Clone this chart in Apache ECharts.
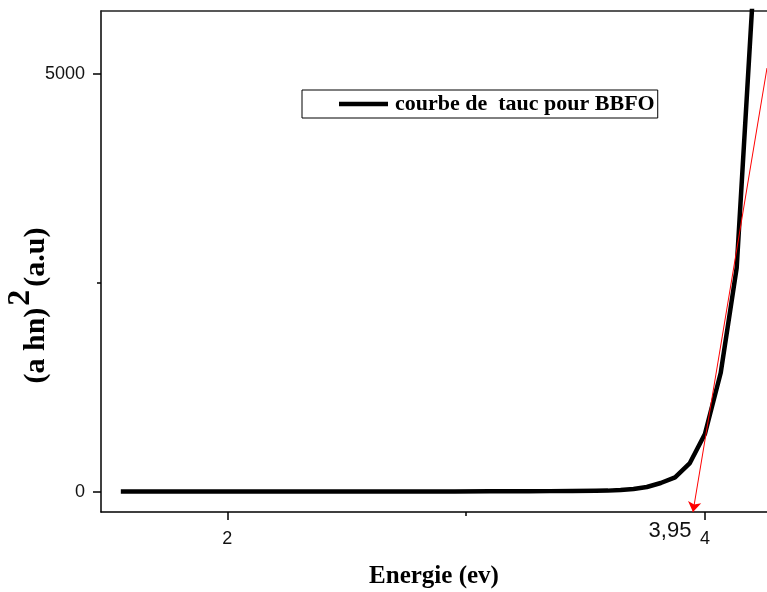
<!DOCTYPE html>
<html>
<head>
<meta charset="utf-8">
<title>Courbe de Tauc - BBFO</title>
<script src="https://cdn.jsdelivr.net/npm/echarts@6/dist/echarts.min.js"></script>
<style>
  html, body { margin: 0; padding: 0; background: #fff; }
  #chart { width: 767px; height: 592px; }
</style>
</head>
<body>
<div id="chart"></div>
<script>
// Photon energy (eV) and Tauc values (a hn)^2 for the BBFO sample
const energy = [
  1.554, 1.59, 1.632, 1.676, 1.722, 1.771, 1.824, 1.879, 1.938, 2.0,
  2.067, 2.138, 2.214, 2.296, 2.385, 2.48, 2.583, 2.696, 2.818, 2.952,
  3.1, 3.179, 3.263, 3.351, 3.444, 3.543, 3.594, 3.647, 3.701, 3.757,
  3.815, 3.875, 3.937, 4.0, 4.066, 4.133, 4.203
];
const taucValues = [
  0, 0, 0, 0, 0, 0, 0, 0, 0, 0,
  0, 0, 0, 0, 1, 1, 1, 2, 2, 2,
  3, 3, 4, 5, 6, 8, 11, 18, 30, 54,
  102, 170, 341, 689, 1419, 2677, 6060
];

// Axis ranges and tick positions
const xRange = [1.471, 4.26];
const yRange = [-245, 5755];
const xMajorTicks = [2, 4];
const xMinorTicks = [3];
const yMajorTicks = [0, 5000];
const yMinorTicks = [2500];

// Linear extrapolation of the absorption edge down to the energy axis
const tangentLine = [[4.26, 5072], [3.95, -245]];
const bandGap = 3.95;
const bandGapLabel = '3,95';

const seriesName = 'courbe de  tauc pour BBFO';
const curve = energy.map((e, i) => [e, taucValues[i]]);

const axisColor = '#000';
const serif = '"Liberation Serif", "Times New Roman", serif';
const sans = '"Liberation Sans", Arial, sans-serif';

const chart = echarts.init(document.getElementById('chart'), null, { renderer: 'canvas' });

const gridBox = { left: 101, right: 0, top: 11, bottom: 80, containLabel: false, outerBoundsMode: 'none' };

const option = {
  animation: false,
  backgroundColor: '#fff',
  grid: [Object.assign({}, gridBox), Object.assign({}, gridBox)],
  legend: {
    data: [seriesName],
    left: 302,
    top: 90,
    padding: [3, 3, 3, 37],
    borderColor: '#000',
    borderWidth: 1,
    icon: 'rect',
    itemWidth: 49,
    itemHeight: 4.5,
    textStyle: {
      fontFamily: serif,
      fontWeight: 'bold',
      fontSize: 22,
      color: '#000',
      padding: [0, 0, 0, 2]
    }
  },
  xAxis: [
    {
      gridIndex: 0,
      type: 'value',
      position: 'bottom',
      min: xRange[0],
      max: xRange[1],
      axisLine: { show: true, onZero: false, lineStyle: { color: axisColor, width: 1.5 } },
      axisTick: { show: true, inside: false, length: 8, customValues: xMajorTicks, lineStyle: { color: axisColor, width: 1.5 } },
      axisLabel: { show: true, customValues: xMajorTicks, margin: 18, fontSize: 18, fontFamily: sans, color: '#111', formatter: v => String(v) },
      splitLine: { show: false },
      name: 'Energie (ev)',
      nameLocation: 'middle',
      nameGap: 52,
      nameMoveOverlap: false,
      nameTextStyle: { fontFamily: serif, fontWeight: 'bold', fontSize: 25, color: '#000' }
    },
    {
      gridIndex: 0,
      type: 'value',
      position: 'top',
      min: xRange[0],
      max: xRange[1],
      axisLine: { show: true, onZero: false, lineStyle: { color: '#222', width: 1.5 } },
      axisTick: { show: false },
      axisLabel: { show: false },
      splitLine: { show: false }
    },
    {
      gridIndex: 1,
      type: 'value',
      position: 'bottom',
      min: xRange[0],
      max: xRange[1],
      axisLine: { show: false, onZero: false },
      axisTick: { show: true, inside: false, length: 4, customValues: xMinorTicks, lineStyle: { color: axisColor, width: 1.5 } },
      axisLabel: { show: false },
      splitLine: { show: false }
    }
  ],
  yAxis: [
    {
      gridIndex: 0,
      type: 'value',
      position: 'left',
      min: yRange[0],
      max: yRange[1],
      axisLine: { show: true, onZero: false, lineStyle: { color: axisColor, width: 1.5 } },
      axisTick: { show: true, inside: false, length: 8, customValues: yMajorTicks, lineStyle: { color: axisColor, width: 1.5 } },
      axisLabel: { show: true, customValues: yMajorTicks, margin: 16, fontSize: 18, fontFamily: sans, color: '#111', formatter: v => String(v) },
      splitLine: { show: false },
      name: '{b|(a hn)}{s|2}{b|(a.u)}',
      nameLocation: 'middle',
      nameRotate: 90,
      nameGap: 50,
      nameMoveOverlap: false,
      nameTextStyle: {
        padding: [0, 0, 0, -88],
        rich: {
          b: { fontFamily: serif, fontWeight: 'bold', fontSize: 30, color: '#000', verticalAlign: 'bottom' },
          s: { fontFamily: serif, fontWeight: 'bold', fontSize: 32, color: '#000', verticalAlign: 'bottom', padding: [0, 3, 14, 2] }
        }
      }
    },
    {
      gridIndex: 1,
      type: 'value',
      position: 'left',
      min: yRange[0],
      max: yRange[1],
      axisLine: { show: false, onZero: false },
      axisTick: { show: true, inside: false, length: 4, customValues: yMinorTicks, lineStyle: { color: axisColor, width: 1.5 } },
      axisLabel: { show: false },
      splitLine: { show: false }
    }
  ],
  series: [
    {
      name: seriesName,
      type: 'line',
      xAxisIndex: 0,
      yAxisIndex: 0,
      data: curve,
      showSymbol: false,
      symbol: 'none',
      clip: true,
      lineStyle: { color: '#000', width: 4.5, join: 'round', cap: 'butt' },
      itemStyle: { color: '#000' },
      z: 3
    },
    {
      name: 'tangente',
      type: 'line',
      xAxisIndex: 0,
      yAxisIndex: 0,
      data: [],
      z: 4,
      markLine: {
        silent: true,
        symbol: ['none', 'arrow'],
        symbolSize: 10,
        label: { show: false },
        lineStyle: { color: '#ff0000', width: 1, type: 'solid' },
        itemStyle: { color: '#ff0000' },
        data: [[{ coord: tangentLine[0] }, { coord: tangentLine[1] }]]
      },
      markPoint: {
        silent: true,
        symbol: 'circle',
        symbolSize: 0,
        label: {
          show: true,
          position: 'inside',
          offset: [-23, 19],
          formatter: bandGapLabel,
          fontFamily: sans,
          fontSize: 22,
          color: '#111'
        },
        data: [{ coord: [bandGap, yRange[0]] }]
      }
    }
  ]
};

chart.setOption(option);
</script>
</body>
</html>
